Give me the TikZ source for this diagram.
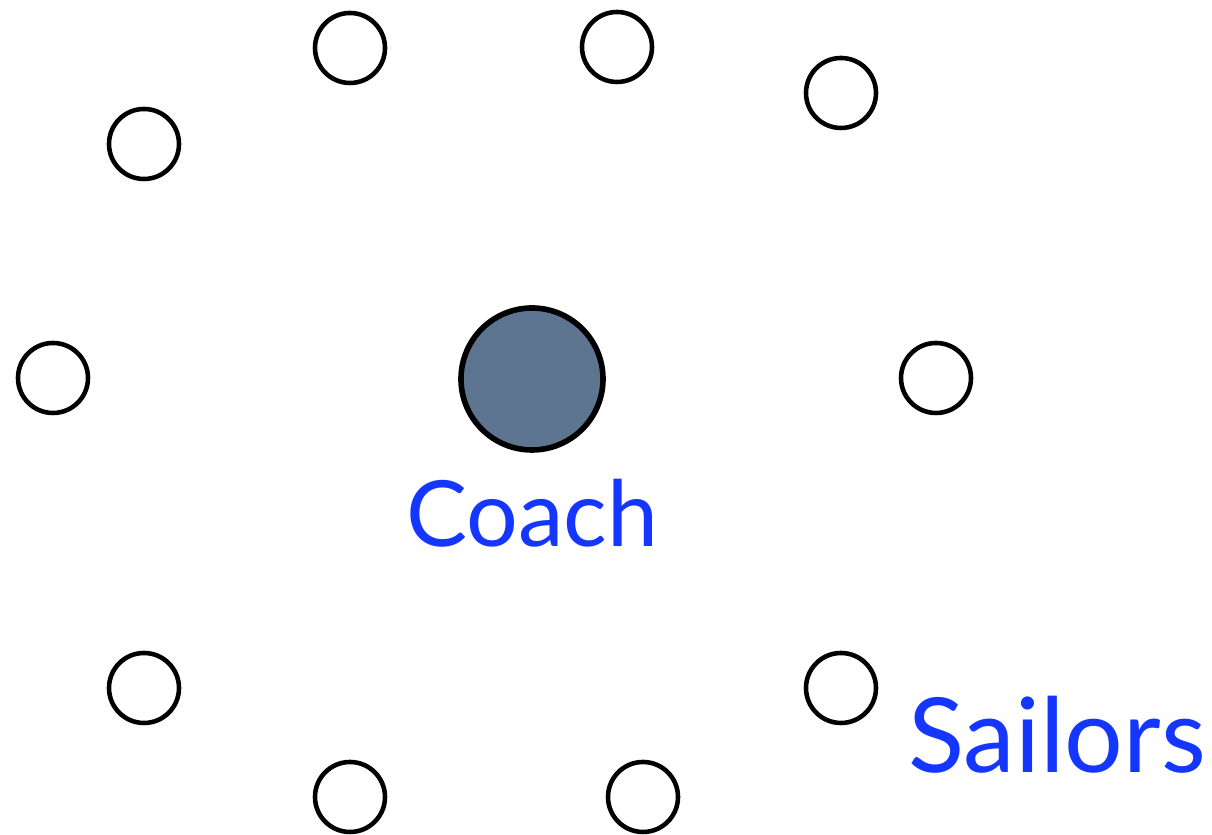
\documentclass[tikz,border=0pt]{standalone}
\usepackage{fontspec}
\setmainfont{Lato}
\usepackage{xcolor}
\definecolor{labelblue}{HTML}{1436FF}
\definecolor{coachfill}{HTML}{5E7591}

\begin{document}
\begin{tikzpicture}[
    sailor/.style={draw,line width=1.3pt,circle,inner sep=0pt,minimum size=0.70cm},
    coachdot/.style={draw,line width=1.6pt,circle,fill=coachfill,inner sep=0pt,minimum size=1.42cm},
    tag/.style={text=labelblue,inner sep=0pt,anchor=base}]
      \useasboundingbox (0,0) rectangle (12.12,8.35);
      % sailors
      \node [sailor] (s1) at (3.50,7.87) {};
      \node [sailor] (s2) at (6.17,7.88) {};
      \node [sailor] (s3) at (8.41,7.42) {};
      \node [sailor] (s4) at (1.44,6.91) {};
      \node [sailor] (s5) at (0.53,4.57) {};
      \node [sailor] (s6) at (9.36,4.57) {};
      \node [sailor] (s7) at (1.44,1.47) {};
      \node [sailor] (s8) at (8.41,1.47) {};
      \node [sailor] (s9) at (3.50,0.38) {};
      \node [sailor] (s10) at (6.43,0.38) {};
      % coach
      \node [coachdot] (coach) at (5.32,4.56) {};
      \node [tag,font=\fontsize{26pt}{29pt}\selectfont] (coachlbl) at (5.32,2.88) {Coach};
      \node [tag,font=\fontsize{29.5pt}{33pt}\selectfont] (sailorslbl) at (10.57,0.62) {Sailors};
    \end{tikzpicture}
\end{document}
